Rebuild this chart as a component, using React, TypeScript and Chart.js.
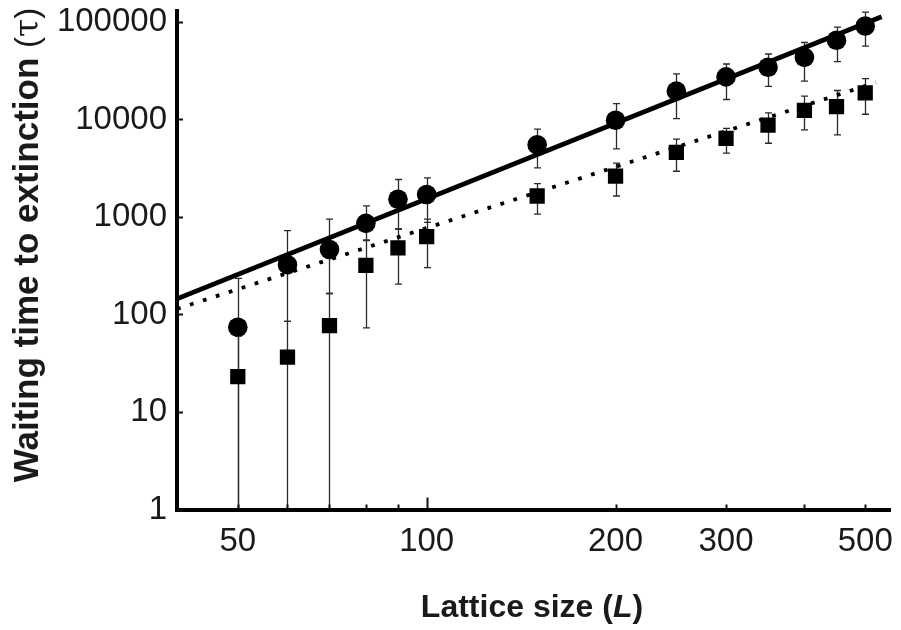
import React, { useEffect, useRef } from "react";
import { Chart, registerables } from "chart.js";

Chart.register(...registerables);

// ---- data ----
const latticeSizes = [50, 60, 70, 80, 90, 100, 150, 200, 250, 300, 350, 400, 450, 500];

const circleValues = [74, 324, 464, 860, 1520, 1700, 5500, 9800, 19500, 27300, 34300, 43300, 64900, 90700];
const circleLow = [0.5, 85, 164, 573, 752, 879, 3180, 5000, 10200, 16000, 21800, 24700, 39100, 56400];
const circleHigh = [234, 724, 950, 1300, 2420, 2520, 7970, 14500, 29300, 37000, 46900, 61500, 88500, 126000];

const squareValues = [23, 36.6, 77, 319, 482, 630, 1640, 2620, 4590, 6400, 8750, 12400, 13500, 18700];
const squareLow = [0.5, 0.5, 0.5, 73, 205, 302, 1070, 1640, 2940, 4520, 5700, 7800, 6930, 11300];
const squareHigh = [60, 85, 164, 581, 752, 950, 2200, 3570, 6270, 8100, 11700, 17300, 19800, 26200];

const solidFitX = [40, 531];
const solidFitY = [145, 113000];
const dottedFitX = [40, 520];
const dottedFitY = [114, 23900];

const xTickLabels = [50, 100, 200, 300, 500];
const yTickLabels = [1, 10, 100, 1000, 10000, 100000];
const xTickMarks = [50, 60, 70, 80, 90, 100, 200, 300, 400, 500];
const xLongTickMarks = [100];

const X_MIN = 40;
const X_MAX = 548;
const Y_MIN = 1;
const Y_MAX = 130000;

const FONT = '"Liberation Sans", Arial, Helvetica, sans-serif';
const INK = "#1a1a1a";

const errorBarPlugin = {
  id: "errorBars",
  beforeDatasetsDraw(chart: any) {
    const { ctx, chartArea, scales } = chart;
    const xs = scales.x;
    const ys = scales.y;
    ctx.save();
    ctx.beginPath();
    ctx.rect(chartArea.left, chartArea.top, chartArea.right - chartArea.left, chartArea.bottom - chartArea.top);
    ctx.clip();
    ctx.strokeStyle = "#2a2a2a";
    ctx.lineWidth = 1.3;
    const cap = 3.5;
    const drawSet = (lows: number[], highs: number[]) => {
      latticeSizes.forEach((L, i) => {
        const px = Math.round(xs.getPixelForValue(L)) + 0.5;
        const yl = ys.getPixelForValue(lows[i]);
        const yh = ys.getPixelForValue(highs[i]);
        ctx.beginPath();
        ctx.moveTo(px, yl);
        ctx.lineTo(px, yh);
        ctx.moveTo(px - cap, yl);
        ctx.lineTo(px + cap, yl);
        ctx.moveTo(px - cap, yh);
        ctx.lineTo(px + cap, yh);
        ctx.stroke();
      });
    };
    drawSet(circleLow, circleHigh);
    drawSet(squareLow, squareHigh);
    ctx.restore();
  },
};

const decorPlugin = {
  id: "decor",
  afterDraw(chart: any) {
    const { ctx, chartArea, scales } = chart;
    const xs = scales.x;
    const ys = scales.y;
    ctx.save();
    // tick marks (inside)
    ctx.strokeStyle = "#111";
    ctx.lineWidth = 2;
    xTickMarks.forEach((v) => {
      const px = Math.round(xs.getPixelForValue(v)) + 0.5;
      const len = xLongTickMarks.includes(v) ? 12 : 5;
      ctx.beginPath();
      ctx.moveTo(px, chartArea.bottom);
      ctx.lineTo(px, chartArea.bottom - len);
      ctx.stroke();
    });
    yTickLabels.forEach((v) => {
      const py = Math.round(ys.getPixelForValue(v)) + 0.5;
      ctx.beginPath();
      ctx.moveTo(chartArea.left, py);
      ctx.lineTo(chartArea.left + 6, py);
      ctx.stroke();
    });

    ctx.fillStyle = INK;
    ctx.textBaseline = "alphabetic";
    ctx.textAlign = "left";

    // x axis title: "Lattice size (L)"
    const xParts = [
      { t: "Lattice size (", f: `bold 32px ${FONT}` },
      { t: "L", f: `italic bold 32px ${FONT}` },
      { t: ")", f: `bold 32px ${FONT}` },
    ];
    let total = 0;
    xParts.forEach((p) => {
      ctx.font = p.f;
      total += ctx.measureText(p.t).width;
    });
    let cx = 532 - total / 2;
    xParts.forEach((p) => {
      ctx.font = p.f;
      ctx.fillText(p.t, cx, 617);
      cx += ctx.measureText(p.t).width;
    });

    // y axis title: "Waiting time to extinction (τ)"
    const yParts = [
      { t: "Waiting time to extinction ", f: `bold 35px ${FONT}` },
      { t: "(", f: `33px ${FONT}` },
      { t: "τ", f: `33px "DejaVu Serif", "Liberation Serif", serif` },
      { t: ")", f: `33px ${FONT}` },
    ];
    total = 0;
    yParts.forEach((p) => {
      ctx.font = p.f;
      total += ctx.measureText(p.t).width;
    });
    ctx.translate(38, 245);
    ctx.rotate(-Math.PI / 2);
    let cy = -total / 2;
    yParts.forEach((p) => {
      ctx.font = p.f;
      ctx.fillText(p.t, cy, 0);
      cy += ctx.measureText(p.t).width;
    });
    ctx.restore();
  },
};

export default function App() {
  const canvasRef = useRef<HTMLCanvasElement | null>(null);

  useEffect(() => {
    if (!canvasRef.current) return;
    const circlePts = latticeSizes.map((L, i) => ({ x: L, y: circleValues[i] }));
    const squarePts = latticeSizes.map((L, i) => ({ x: L, y: squareValues[i] }));
    const solidPts = solidFitX.map((x, i) => ({ x, y: solidFitY[i] }));
    const dottedPts = dottedFitX.map((x, i) => ({ x, y: dottedFitY[i] }));

    const chart = new Chart(canvasRef.current, {
      type: "scatter",
      data: {
        datasets: [
          {
            label: "circles",
            data: circlePts,
            pointStyle: "circle",
            pointRadius: 9.8,
            backgroundColor: "#000",
            borderColor: "#000",
            borderWidth: 0,
            showLine: false,
            order: 1,
          },
          {
            label: "squares",
            data: squarePts,
            pointStyle: "rect",
            pointRadius: 10.8,
            backgroundColor: "#000",
            borderColor: "#000",
            borderWidth: 0,
            showLine: false,
            order: 2,
          },
          {
            label: "solid fit",
            data: solidPts,
            showLine: true,
            pointRadius: 0,
            borderColor: "#000",
            borderWidth: 4.8,
            backgroundColor: "#000",
            order: 3,
          },
          {
            label: "dotted fit",
            data: dottedPts,
            showLine: true,
            pointRadius: 0,
            borderColor: "#000",
            borderWidth: 3.8,
            borderDash: [3.8, 9.8],
            borderCapStyle: "butt",
            backgroundColor: "#000",
            order: 4,
          },
        ],
      },
      options: {
        animation: false,
        responsive: false,
        maintainAspectRatio: false,
        events: [],
        layout: { padding: { left: 0, top: 6, right: 8, bottom: 0 } },
        plugins: {
          legend: { display: false },
          tooltip: { enabled: false },
          title: { display: false },
        },
        scales: {
          x: {
            type: "logarithmic",
            position: "bottom",
            min: X_MIN,
            max: X_MAX,
            grid: { display: false, drawTicks: false },
            border: { display: true, color: "#000", width: 4 },
            afterBuildTicks: (scale: any) => {
              scale.ticks = xTickLabels.map((v) => ({ value: v }));
            },
            afterFit: (scale: any) => {
              scale.height = 120.5;
              scale.paddingLeft = 0;
              scale.paddingRight = 0;
              scale.paddingTop = 0;
              scale.paddingBottom = 0;
            },
            ticks: {
              autoSkip: false,
              maxRotation: 0,
              minRotation: 0,
              padding: 13,
              color: INK,
              font: { family: FONT, size: 33 },
              callback: (v: any) => String(v),
            },
          },
          y: {
            type: "logarithmic",
            position: "left",
            min: Y_MIN,
            max: Y_MAX,
            grid: { display: false, drawTicks: false },
            border: { display: true, color: "#000", width: 4 },
            afterBuildTicks: (scale: any) => {
              scale.ticks = yTickLabels.map((v) => ({ value: v }));
            },
            afterFit: (scale: any) => {
              scale.width = 177;
              scale.paddingLeft = 0;
              scale.paddingRight = 0;
              scale.paddingTop = 0;
              scale.paddingBottom = 0;
            },
            ticks: {
              autoSkip: false,
              padding: 10,
              color: INK,
              font: { family: FONT, size: 33 },
              callback: (v: any) => String(v),
            },
          },
        },
      },
      plugins: [errorBarPlugin, decorPlugin],
    } as any);

    return () => chart.destroy();
  }, []);

  return (
    <div style={{ position: "absolute", left: 0, top: 0, width: 901, height: 630, background: "#fff" }}>
      <canvas ref={canvasRef} width={901} height={630} style={{ display: "block", width: 901, height: 630 }} />
    </div>
  );
}
